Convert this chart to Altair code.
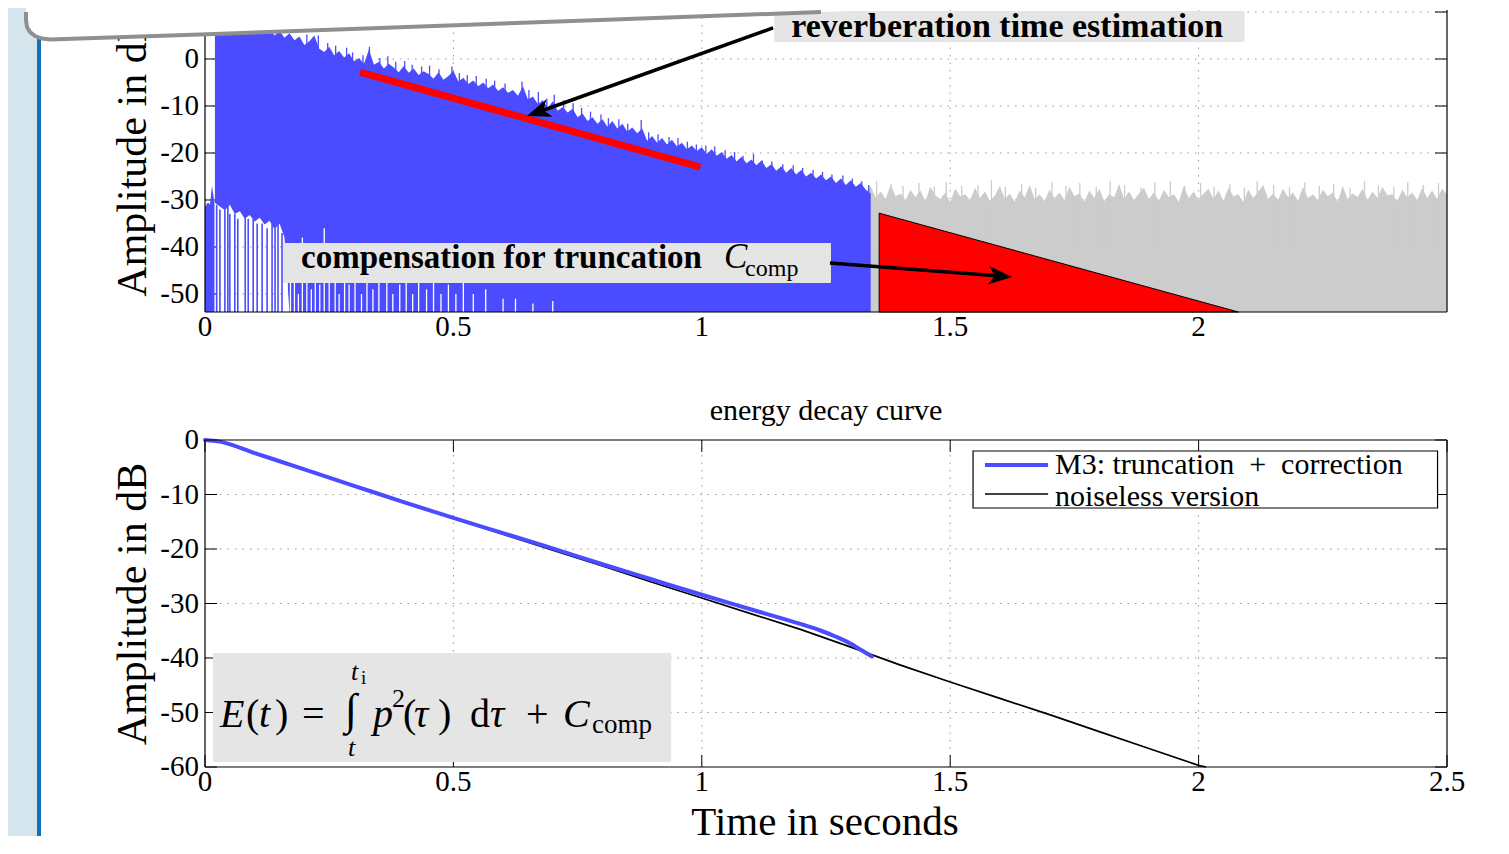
import altair as alt
import pandas as pd

FONT = "Liberation Serif"
BLUE = "#4b4bff"
GRAY = "#cccccc"
RED = "#ff0000"
BOXC = "#e5e5e5"
GRIDC = "#9a9a9a"

# ---------------- data: top panel (impulse response level, dB) ----------------
blue_pre_t = [0.0, 0.006, 0.010, 0.014, 0.019]
blue_pre_db = [-31.5, -30.5, -31.0, -27.0, -30.5]

# upper envelope of the blue (used) part, one value every 10 ms from t = 0.02 s
blue_upper = [
    9.0, 7.5, 9.5, 8.0, 9.2, 7.2, 8.6, 9.4, 7.4, 8.4,
    7.6, 6.5, 5.0, 6.0, 4.5, 5.5, 4.0, 4.8, 3.0, 3.8,
    5.0, 2.2, 1.5, 2.6, 0.8, 1.7, 0.3, 1.2, -0.5, 0.2,
    -1.0, 2.0, -1.2, -0.6, -2.0, -1.0, -1.8, -2.8, -1.5, -2.9,
    -2.0, -3.4, -2.6, -3.2, -4.2, -2.8, -4.4, -3.6, -2.5, -4.8,
    -4.0, -5.3, -4.6, -5.8, -5.0, -6.2, -5.4, -6.8, -6.0, -7.2,
    -6.6, -7.8, -5.8, -8.6, -8.0, -9.6, -8.8, -10.4, -9.0, -11.0,
    -10.2, -11.4, -10.6, -12.4, -11.6, -13.2, -12.4, -13.8, -12.8, -14.4,
    -13.2, -14.8, -13.8, -15.4, -14.6, -15.8, -14.8, -17.4, -16.4, -17.8,
    -16.8, -18.2, -17.2, -18.6, -17.8, -19.2, -18.4, -19.6, -18.8, -20.2,
    -19.2, -20.6, -19.8, -21.2, -20.4, -21.8, -20.8, -22.2, -21.4, -22.6,
    -21.6, -23.2, -22.4, -23.8, -22.8, -24.2, -23.2, -24.6, -23.6, -25.0,
    -24.2, -25.4, -24.6, -25.8, -25.0, -26.4, -25.4, -26.8, -25.8, -27.2,
    -26.4, -27.8, -28.6,
]
# lower edge of the solid blue in the first 0.16 s (white zone below it)
blue_floor_early = [-30.6, -31.4, -32.2, -31.0, -33.0, -32.4, -34.0, -33.2,
                    -34.6, -33.8, -35.2, -34.4, -36.2, -35.0, -38.0]
PLOT_FLOOR = -53.83

# isolated peaks above the dense blue top
blue_spike_t = [0.205, 0.228, 0.247, 0.263, 0.285, 0.297, 0.318, 0.331, 0.352, 0.368,
                0.384, 0.402, 0.417, 0.436, 0.452, 0.471, 0.497, 0.512, 0.528, 0.546,
                0.566, 0.583, 0.604, 0.638, 0.652, 0.671, 0.688, 0.703, 0.722, 0.741,
                0.758, 0.776, 0.797, 0.812, 0.833, 0.851, 0.878, 0.893, 0.912, 0.934,
                0.952, 0.971, 0.989, 1.008, 1.026, 1.047, 1.066, 1.083, 1.104, 1.122,
                1.141, 1.163, 1.184, 1.203, 1.224, 1.243, 1.262, 1.284, 1.303, 1.322,
                1.336]
blue_spike_db = [5.2, 5.0, 3.4, 2.8, 2.4, 1.4, 0.8, 2.6, 0.2, 0.6,
                 -0.6, -0.4, -1.2, -1.6, -1.4, -2.2, -1.6, -3.0, -3.4, -3.6,
                 -4.2, -4.6, -5.2, -4.8, -6.6, -7.0, -8.4, -7.6, -8.8, -9.4,
                 -10.4, -11.2, -11.8, -12.6, -12.8, -13.8, -13.0, -15.6, -16.0, -16.6,
                 -16.8, -17.6, -18.2, -18.4, -18.6, -19.4, -19.8, -20.6, -20.2, -21.6,
                 -21.8, -22.4, -22.6, -23.2, -23.6, -24.0, -24.6, -24.8, -25.4, -26.0,
                 -26.8]

# upper envelope of the grey (noise) part, every 10 ms from t = 1.33 s
gray_upper = [
    -28.5, -27.0, -29.5, -28.2, -29.8, -26.8, -29.2, -28.6, -30.0, -27.8,
    -29.4, -28.0, -30.2, -27.2, -29.0, -29.8, -28.4, -30.4, -27.6, -29.2,
    -28.8, -30.0, -27.4, -29.6, -28.2, -30.2, -29.0, -27.0, -29.8, -28.6,
    -30.4, -28.0, -29.4, -26.8, -29.8, -28.8, -30.2, -27.8, -29.6, -28.4,
    -30.0, -27.2, -29.2, -28.6, -30.4, -28.0, -29.6, -27.6, -30.2, -28.8,
    -29.4, -26.6, -29.8, -28.2, -30.0, -28.6, -27.4, -29.8, -28.4, -30.2,
    -27.8, -29.4, -28.8, -30.4, -27.0, -29.6, -28.2, -30.0, -28.6, -27.6,
    -29.8, -28.0, -30.2, -27.4, -29.2, -28.8, -30.4, -27.8, -29.6, -28.2,
    -26.8, -29.8, -28.6, -30.0, -27.6, -29.4, -28.4, -30.2, -27.2, -29.6,
    -28.8, -30.0, -27.8, -29.2, -28.4, -30.4, -27.0, -29.8, -28.6, -29.4,
    -27.6, -30.0, -28.2, -29.6, -27.2, -29.0, -28.8, -30.2, -27.8, -29.4,
    -28.4, -30.0, -27.4, -29.6, -28.0, -29.8, -27.6, -28.8,
]
gray_spike_t = [1.352, 1.381, 1.405, 1.437, 1.468, 1.492, 1.523, 1.556, 1.583, 1.611,
                1.644, 1.672, 1.705, 1.733, 1.761, 1.794, 1.822, 1.851, 1.884, 1.912,
                1.943, 1.972, 2.004, 2.031, 2.063, 2.092, 2.118, 2.151, 2.183, 2.214,
                2.243, 2.272, 2.305, 2.334, 2.362, 2.393, 2.421, 2.452, 2.483]
gray_spike_db = [-26.0, -26.6, -27.0, -26.4, -27.2, -26.2, -27.0, -26.8, -25.8, -27.2,
                 -26.6, -27.4, -26.2, -27.0, -26.4, -27.2, -25.9, -26.8, -27.4, -26.2,
                 -26.0, -27.0, -26.4, -27.2, -26.6, -27.4, -26.0, -26.8, -27.2, -26.2,
                 -27.0, -26.6, -27.4, -26.0, -26.8, -27.2, -26.2, -26.8, -26.4]

# blue spikes reaching the bottom inside the early white zone
stem_t = [0.0235, 0.030, 0.040, 0.046, 0.050, 0.060, 0.066, 0.081, 0.087,
          0.097, 0.105, 0.115, 0.125, 0.135, 0.141, 0.147, 0.155]
stem_top = [-31, -32, -32, -31, -33, -33, -34, -33, -34,
            -34, -35, -35, -36, -35, -36, -35, -37]
# white gaps (signal dips) near the bottom
gap_t = [0.165, 0.172, 0.180, 0.188, 0.196, 0.205, 0.214, 0.222, 0.231, 0.240,
         0.250, 0.262, 0.270, 0.281, 0.290, 0.302, 0.315, 0.326, 0.338, 0.350,
         0.366, 0.378, 0.392, 0.405, 0.418, 0.430, 0.446, 0.460, 0.475, 0.490,
         0.505, 0.520, 0.540, 0.565, 0.600, 0.625, 0.660, 0.700]
gap_top = [-40, -47, -44, -50, -38, -46, -49, -43, -48, -36,
           -47, -45, -50, -44, -48, -46, -50, -42, -49, -47,
           -45, -50, -48, -46, -50, -47, -49, -45, -50, -48,
           -50, -47, -50, -49, -51, -51, -52, -51.5]

fit_t = [0.312, 0.997]
fit_db = [-2.8, -23.0]
tri_t = [1.357, 2.080]
tri_db = [-32.8, -53.83]

# ---------------- data: bottom panel (energy decay curve) ----------------
edc_t = [0.0, 0.03, 0.1, 0.2, 0.3, 0.4, 0.5, 0.6, 0.7, 0.8, 0.9, 1.0, 1.1,
         1.2, 1.3, 1.4, 1.5, 1.6, 1.7, 1.8, 1.9, 2.0, 2.015]
edc_db = [0.0, -0.3, -2.4, -5.4, -8.5, -11.5, -14.4, -17.3, -20.2, -23.1,
          -26.1, -29.0, -31.9, -34.8, -38.0, -41.3, -44.4, -47.4, -50.4,
          -53.5, -56.6, -59.7, -60.0]
m3_t = [0.0, 0.03, 0.1, 0.2, 0.3, 0.4, 0.5, 0.6, 0.7, 0.8, 0.9, 1.0, 1.1,
        1.2, 1.24, 1.27, 1.30, 1.32, 1.342]
m3_db = [0.0, -0.3, -2.4, -5.4, -8.4, -11.4, -14.3, -17.1, -19.9, -22.8,
         -25.6, -28.4, -31.1, -33.8, -35.0, -36.1, -37.4, -38.5, -39.7]
legend_labels = ["M3: truncation\u2002+\u2002correction", "noiseless version"]

# ---------------- ticks ----------------
xtick_top = [0, 0.5, 1, 1.5, 2]
xlbl_top = ["0", "0.5", "1", "1.5", "2"]
xtick_bot = [0, 0.5, 1, 1.5, 2, 2.5]
xlbl_bot = ["0", "0.5", "1", "1.5", "2", "2.5"]
xgrid = [0.5, 1, 1.5, 2]
ytick_top = [-50, -40, -30, -20, -10, 0]
ylbl_top = ["-50", "-40", "-30", "-20", "-10", "0"]
ygrid_top = [-50, -40, -30, -20, -10, 0, 10]
ytick_bot = [-60, -50, -40, -30, -20, -10, 0]
ylbl_bot = ["-60", "-50", "-40", "-30", "-20", "-10", "0"]
ygrid_bot = [-50, -40, -30, -20, -10]

# ---------------- derived tables ----------------
blue_t = [round(0.02 + 0.01 * i, 3) for i in range(len(blue_upper))]
gray_t = [round(1.33 + 0.01 * i, 3) for i in range(len(gray_upper))]
blue_lower = blue_floor_early + [PLOT_FLOOR] * (len(blue_upper) - len(blue_floor_early))

# ---------------- scales / helpers ----------------
W = 1242
TOP_H = 304
B0, B1 = 432, 759
XS = alt.Scale(domain=[0, 2.5], range=[0, W], nice=False, zero=False)
YT = alt.Scale(domain=[PLOT_FLOOR, 10.85], range=[TOP_H, 0], nice=False, zero=False)
YB = alt.Scale(domain=[-60, 0], range=[B1, B0], nice=False, zero=False)
ONE = pd.DataFrame({"k": [0]})


def xq(f):
    return alt.X(f, type="quantitative", scale=XS, axis=None)


def yq(f, s):
    return alt.Y(f, type="quantitative", scale=s, axis=None, stack=None)


def D(**cols):
    return pd.DataFrame(cols)


def hrules(vals, s, x0, x1, **mk):
    return alt.Chart(D(v=vals)).mark_rule(**mk).encode(
        y=yq("v", s), x=alt.value(x0), x2=alt.value(x1))


def vrules(vals, y0, y1, **mk):
    return alt.Chart(D(v=vals)).mark_rule(**mk).encode(
        x=xq("v"), y=alt.value(y0), y2=alt.value(y1))


def vline(x, y0, y1, **mk):
    return alt.Chart(ONE).mark_rule(**mk).encode(
        x=alt.value(x), y=alt.value(y0), y2=alt.value(y1))


def hline(y, x0, x1, **mk):
    return alt.Chart(ONE).mark_rule(**mk).encode(
        y=alt.value(y), x=alt.value(x0), x2=alt.value(x1))


def seg(t0, d0, t1, d1, s, **mk):
    return alt.Chart(D(a=[t0], b=[t1], c=[d0], d=[d1])).mark_rule(**mk).encode(
        x=xq("a"), x2=alt.X2("b"), y=yq("c", s), y2=alt.Y2("d"))


def box(t0, t1, d0, d1, s, **mk):
    return alt.Chart(D(a=[t0], b=[t1], c=[d0], d=[d1])).mark_rect(**mk).encode(
        x=xq("a"), x2=alt.X2("b"), y=yq("c", s), y2=alt.Y2("d"))


def fixed_text(s, x, y, **mk):
    return alt.Chart(D(s=[s])).mark_text(font=FONT, **mk).encode(
        x=alt.value(x), y=alt.value(y), text="s:N")


def pieces(items, s, style):
    tbl = D(s=[p[0] for p in items], t=[p[1] for p in items],
            d=[p[2] for p in items], fs=[p[3] for p in items])
    return alt.Chart(tbl).mark_text(font=FONT, fontStyle=style, align="left",
                                    baseline="alphabetic", color="black").encode(
        x=xq("t"), y=yq("d", s), text="s:N", size=alt.Size("fs:Q", scale=None))


GRID = dict(color=GRIDC, strokeWidth=1, strokeDash=[1.5, 6])
TICK = dict(color="black", strokeWidth=1)
FRAME = dict(color="black", strokeWidth=1.2)
ARROW = "M0,0 L-2.2,-0.85 L-1.6,0 L-2.2,0.85 Z"

# ---------------- top panel ----------------
top_layers = [
    hrules(ygrid_top, YT, 0, W, **GRID),
    vrules(xgrid, 2, TOP_H, **GRID),
    hrules(ygrid_top, YT, 0, 12, **TICK),
    hrules(ygrid_top, YT, W - 12, W, **TICK),
    alt.Chart(D(t=gray_t, db=gray_upper)).mark_area(color=GRAY).encode(
        x=xq("t"), y=yq("db", YT), y2=alt.value(TOP_H)),
    alt.Chart(D(t=gray_spike_t, db=gray_spike_db)).mark_rule(color=GRAY, strokeWidth=1.3).encode(
        x=xq("t"), y=yq("db", YT), y2=alt.datum(-40)),
    alt.Chart(D(t=blue_pre_t, db=blue_pre_db)).mark_area(color=BLUE).encode(
        x=xq("t"), y=yq("db", YT), y2=alt.value(TOP_H)),
    alt.Chart(D(t=blue_t, up=blue_upper, lo=blue_lower)).mark_area(color=BLUE).encode(
        x=xq("t"), y=yq("up", YT), y2=alt.Y2("lo")),
    alt.Chart(D(t=blue_spike_t, db=blue_spike_db)).mark_rule(color=BLUE, strokeWidth=1.3).encode(
        x=xq("t"), y=yq("db", YT), y2=alt.datum(-35)),
    alt.Chart(D(t=stem_t, top=stem_top)).mark_rule(color=BLUE, strokeWidth=1.6).encode(
        x=xq("t"), y=yq("top", YT), y2=alt.value(TOP_H)),
    alt.Chart(D(t=gap_t, top=gap_top)).mark_rule(color="white", strokeWidth=1.3).encode(
        x=xq("t"), y=yq("top", YT), y2=alt.value(TOP_H)),
    alt.Chart(D(t=tri_t, db=tri_db)).mark_area(fill=RED, stroke="black", strokeWidth=1).encode(
        x=xq("t"), y=yq("db", YT), y2=alt.value(TOP_H)),
    seg(fit_t[0], fit_db[0], fit_t[1], fit_db[1], YT, color=RED, strokeWidth=7),
    vline(0, 2, TOP_H, **FRAME),
    vline(W, 2, TOP_H, **FRAME),
    hline(TOP_H, 0, W, **FRAME),
    alt.Chart(D(v=ytick_top, s=ylbl_top)).mark_text(
        font=FONT, fontSize=29, align="right", baseline="middle").encode(
        y=yq("v", YT), x=alt.value(-6), text="s:N"),
    alt.Chart(D(v=xtick_top, s=xlbl_top)).mark_text(
        font=FONT, fontSize=29, align="center", baseline="middle").encode(
        x=xq("v"), y=alt.value(319), text="s:N"),
    # annotation: reverberation time estimation
    box(1.1457, 2.0924, 10.21, 3.62, YT, color=BOXC),
    alt.Chart(D(t=[1.6147], d=[4.68], s=["reverberation time estimation"])).mark_text(
        font=FONT, fontSize=34, fontWeight="bold", align="center", baseline="alphabetic").encode(
        x=xq("t"), y=yq("d", YT), text="s:N"),
    seg(1.1435, 6.6, 0.6654, -11.49, YT, color="black", strokeWidth=3.5),
    alt.Chart(D(t=[0.648], d=[-12.13])).mark_point(
        shape=ARROW, filled=True, color="black", opacity=1, size=475, angle=160.3).encode(
        x=xq("t"), y=yq("d", YT)),
    # annotation: compensation for truncation
    box(0.157, 1.260, -39.15, -47.66, YT, color=BOXC),
    alt.Chart(D(t=[0.1933], d=[-44.47], s=["compensation for truncation"])).mark_text(
        font=FONT, fontSize=33, fontWeight="bold", align="left", baseline="alphabetic").encode(
        x=xq("t"), y=yq("d", YT), text="s:N"),
    pieces([("C", 1.0449, -44.47, 35)], YT, "italic"),
    pieces([("comp", 1.0872, -46.17, 24)], YT, "normal"),
    seg(1.258, -43.4, 1.6066, -46.23, YT, color="black", strokeWidth=3.5),
    alt.Chart(D(t=[1.625], d=[-46.4])).mark_point(
        shape=ARROW, filled=True, color="black", opacity=1, size=475, angle=4.4).encode(
        x=xq("t"), y=yq("d", YT)),
    fixed_text("Amplitude in dB", -59, 147.5, fontSize=42, angle=270,
               align="center", baseline="alphabetic"),
]
top = alt.layer(*top_layers)

# ---------------- bottom panel ----------------
formula_italic = [
    ("E", 0.0302, -52.66, 40), ("t", 0.1087, -52.66, 40),
    ("t", 0.2939, -44.04, 26), ("t", 0.2879, -57.98, 26),
    ("p", 0.3382, -52.66, 40), ("τ", 0.4208, -52.66, 40),
    ("τ", 0.5738, -52.66, 40), ("C", 0.7208, -52.66, 40),
]
formula_upright = [
    ("(", 0.0826, -52.66, 40), (")", 0.1409, -52.66, 40), ("=", 0.1953, -52.66, 40),
    ("∫", 0.2818, -52.11, 44), ("i", 0.3141, -44.77, 19), ("2", 0.3765, -48.99, 26),
    ("(", 0.3986, -52.66, 40), (")", 0.4691, -52.66, 40), ("d", 0.5335, -52.66, 40),
    ("+", 0.6463, -52.66, 40), ("comp", 0.7791, -53.76, 27),
]

bottom_layers = [
    hrules(ygrid_bot, YB, 0, W, **GRID),
    vrules(xgrid, B0, B1, **GRID),
    hrules(ytick_bot, YB, 0, 12, **TICK),
    hrules(ytick_bot, YB, W - 12, W, **TICK),
    vrules(xtick_bot, B1 - 12, B1, **TICK),
    vrules(xtick_bot, B0, B0 + 12, **TICK),
    box(0.0161, 0.9382, -39.08, -59.08, YB, color=BOXC),
    alt.Chart(D(t=edc_t, db=edc_db)).mark_line(color="black", strokeWidth=1.7).encode(
        x=xq("t"), y=yq("db", YB)),
    alt.Chart(D(t=m3_t, db=m3_db)).mark_line(color=BLUE, strokeWidth=4, strokeCap="round",
                                             interpolate="monotone").encode(
        x=xq("t"), y=yq("db", YB)),
    vline(0, B0, B1, **FRAME),
    vline(W, B0, B1, **FRAME),
    hline(B0, 0, W, **FRAME),
    hline(B1, 0, W, **FRAME),
    # legend
    box(1.546, 2.481, -2.02, -12.48, YB, fill="white", stroke="black", strokeWidth=1.2),
    seg(1.570, -4.59, 1.697, -4.59, YB, color=BLUE, strokeWidth=4),
    seg(1.570, -9.91, 1.697, -9.91, YB, color="black", strokeWidth=1.5),
    alt.Chart(D(t=[1.711, 1.711], d=[-6.24, -12.11], s=legend_labels)).mark_text(
        font=FONT, fontSize=30, align="left", baseline="alphabetic").encode(
        x=xq("t"), y=yq("d", YB), text="s:N"),
    pieces(formula_italic, YB, "italic"),
    pieces(formula_upright, YB, "normal"),
    alt.Chart(D(v=ytick_bot, s=ylbl_bot)).mark_text(
        font=FONT, fontSize=29, align="right", baseline="middle").encode(
        y=yq("v", YB), x=alt.value(-6), text="s:N"),
    alt.Chart(D(v=xtick_bot, s=xlbl_bot)).mark_text(
        font=FONT, fontSize=29, align="center", baseline="middle").encode(
        x=xq("v"), y=alt.value(774), text="s:N"),
    fixed_text("Amplitude in dB", -59, 596, fontSize=42, angle=270,
               align="center", baseline="alphabetic"),
    fixed_text("Time in seconds", 620, 827, fontSize=41, align="center", baseline="alphabetic"),
    fixed_text("energy decay curve", 621, 412, fontSize=30, align="center", baseline="alphabetic"),
]
bottom = alt.layer(*bottom_layers)

# ---------------- slide decoration (pixel space) ----------------
OX, OY = 205, 8
edge_page = [(26, 12), (26, 20), (27, 27), (30, 32), (35, 36), (42, 38.6), (50, 39.5),
             (200, 34.5), (400, 27.3), (600, 20), (821, 12)]
fill_page = [(26, 22), (27, 27), (30, 32), (35, 36), (42, 38.6), (50, 39.5),
             (200, 34.5), (400, 27.3), (600, 20), (821, 12), (876, 10), (950, 8)]
edge_df = D(px=[p[0] - OX for p in edge_page], py=[p[1] - OY for p in edge_page],
            i=list(range(len(edge_page))))
fill_df = D(px=[p[0] - OX for p in fill_page], py=[p[1] - OY for p in fill_page])

back = alt.layer(
    alt.Chart(ONE).mark_rect(color="#d4e5ee").encode(
        x=alt.value(8 - OX), x2=alt.value(37 - OX), y=alt.value(0), y2=alt.value(828)),
    alt.Chart(ONE).mark_rect(color="#1170b8").encode(
        x=alt.value(37 - OX), x2=alt.value(41 - OX), y=alt.value(0), y2=alt.value(828)),
)
front = alt.layer(
    alt.Chart(fill_df).mark_area(color="white").encode(
        x=alt.X("px:Q", scale=None), y=alt.Y("py:Q", scale=None, stack=None), y2=alt.value(0)),
    alt.Chart(edge_df).mark_line(color="#8f8f8f", strokeWidth=4, strokeJoin="round").encode(
        x=alt.X("px:Q", scale=None), y=alt.Y("py:Q", scale=None), order=alt.Order("i:Q")),
)

chart = (
    alt.layer(back, top, bottom, front)
    .resolve_scale(y="independent")
    .properties(width=W, height=B1, padding=0)
    .configure_view(stroke=None)
)

chart.save("out.html", embed_options={"renderer": "svg", "actions": False})
